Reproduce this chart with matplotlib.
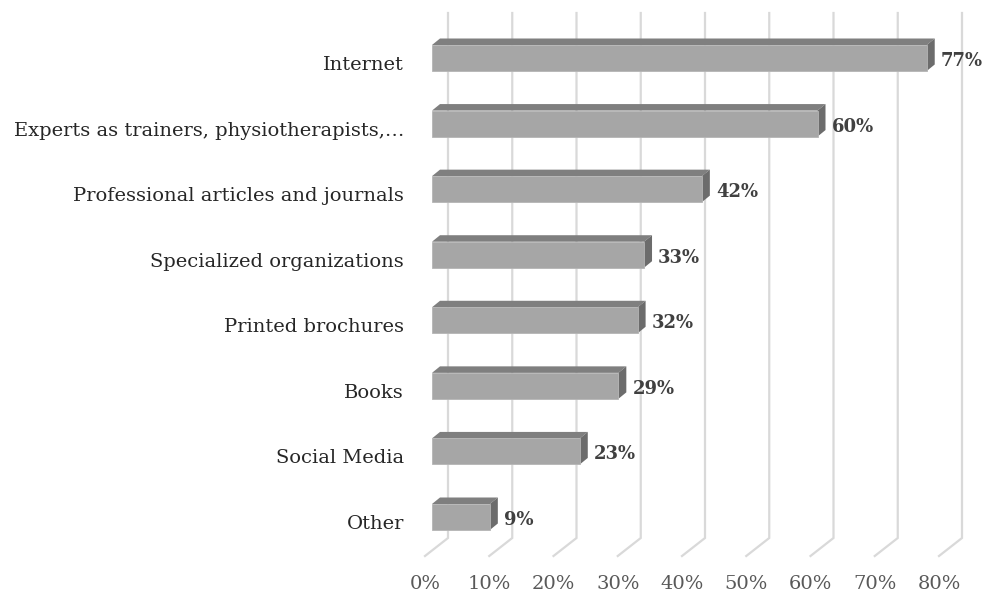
import matplotlib
matplotlib.use("Agg")
import matplotlib.pyplot as plt
from matplotlib.patches import Polygon

categories = ["Internet", "Experts as trainers, physiotherapists,\u2026",
              "Professional articles and journals", "Specialized organizations",
              "Printed brochures", "Books", "Social Media", "Other"]
values = [77, 60, 42, 33, 32, 29, 23, 9]
ticks = [0, 10, 20, 30, 40, 50, 60, 70, 80]
tick_labels = [f"{t}%" for t in ticks]

W, H = 982, 597
fig = plt.figure(figsize=(W / 100, H / 100), dpi=100)
# axes placement in pixels (from top-left)
L, R, T, B = 432, 946, 13, 556
ax = fig.add_axes([L / W, (H - B) / H, (R - L) / W, (B - T) / H])
ax.set_axis_off()

n = len(categories)
ypos = list(range(n - 1, -1, -1))  # Internet at top
spacing_px = 65.57
ylo = -(B - 517) / spacing_px
yhi = (n - 1) + (58 - T) / spacing_px
ax.set_xlim(0, 80)
ax.set_ylim(ylo, yhi)

PX = 80 / (R - L)             # data x per pixel
PY = (yhi - ylo) / (B - T)    # data y per pixel

bar_h = 26 * PY
ddx, ddy = 8 * PX, 6.5 * PY   # depth offset

front_c = "#A6A6A6"
top_c = "#7F7F7F"
side_c = "#6C6C6C"
grid_c = "#D9D9D9"

# gridlines: back wall + floor diagonal
back = 16 * PX
front_off = -7 * PX
bend_y = ylo + (B - 538) * PY
for t in ticks:
    ax.plot([t + back, t + back, t + front_off], [yhi, bend_y, ylo],
            color=grid_c, lw=1.6, zorder=1, clip_on=False,
            solid_joinstyle="miter")

# bars
for y, v in zip(ypos, values):
    b = y - bar_h / 2
    tp = y + bar_h / 2
    ax.add_patch(Polygon([(0, tp), (ddx, tp + ddy), (v + ddx, tp + ddy), (v, tp)],
                         closed=True, fc=top_c, ec="none", zorder=3))
    ax.add_patch(Polygon([(v, b), (v + ddx, b + ddy), (v + ddx, tp + ddy), (v, tp)],
                         closed=True, fc=side_c, ec="none", zorder=3))
    ax.barh(y, v, height=bar_h, left=0, color=front_c, edgecolor="#B5B5B5",
            linewidth=0.6, zorder=4)
    ax.text(v + 14 * PX, y - 3 * PY, f"{v}%", ha="left", va="center",
            fontsize=13, fontweight="bold", family="DejaVu Serif",
            color="#404040", zorder=5)

# category labels
for y, c in zip(ypos, categories):
    ax.text(-28 * PX, y - 7 * PY, c, ha="right", va="center", fontsize=14,
            family="DejaVu Serif", color="#262626", clip_on=False)

# tick labels
for t, tl in zip(ticks, tick_labels):
    ax.text(t + front_off, ylo - 28 * PY, tl, ha="center", va="center",
            fontsize=14, family="DejaVu Serif", color="#595959", clip_on=False)

fig.savefig("out.png", dpi=100)
